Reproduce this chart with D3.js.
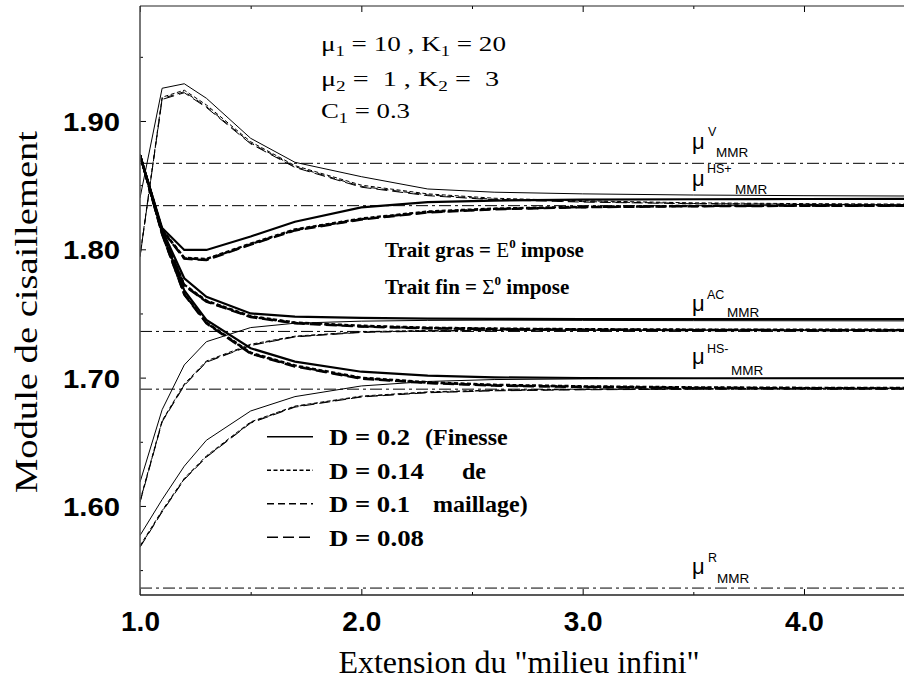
<!DOCTYPE html>
<html><head><meta charset="utf-8">
<script src="https://cdn.jsdelivr.net/npm/d3@7"></script>
<style>body{margin:0;background:#fff} svg{display:block}</style>
</head><body><svg id="c" width="904" height="679"></svg>
<script>
// ---- data ----
const xs = [1.0, 1.1, 1.2, 1.3, 1.5, 1.7, 2.0, 2.3, 2.6, 3.0, 3.5, 4.0, 4.5];
const meshLabels = ["D = 0.2", "D = 0.14", "D = 0.1", "D = 0.08"];
const meshNotes = ["(Finesse", "de", "maillage)", ""];
const xTicksMajor = [1.0, 2.0, 3.0, 4.0];
const xTicksMinor = [1.5, 2.5, 3.5, 4.5];
const yTicksMajor = [1.60, 1.70, 1.80, 1.90];
const yTicksMinor = [1.55, 1.65, 1.75, 1.85, 1.95];
const refNames = ["V", "HS+", "AC", "HS-", "R"];
const refValues = [1.867, 1.834, 1.736, 1.691, 1.536];

// Sigma0 imposed (thin lines)
const sigUp_020 = [1.840, 1.9255, 1.9290, 1.9177, 1.8865, 1.8678, 1.8566, 1.8470, 1.8445, 1.8432, 1.8423, 1.8418, 1.8415];
const sigUp_014 = [1.795, 1.9185, 1.9240, 1.9125, 1.8838, 1.8652, 1.8500, 1.8432, 1.8398, 1.8378, 1.8362, 1.8356, 1.8352];
const sigUp_010 = [1.794, 1.9175, 1.9228, 1.9112, 1.8828, 1.8644, 1.8490, 1.8424, 1.8390, 1.8372, 1.8357, 1.8351, 1.8348];
const sigUp_008 = [1.7945, 1.9168, 1.9220, 1.9105, 1.8822, 1.8638, 1.8484, 1.8418, 1.8386, 1.8368, 1.8355, 1.8349, 1.8346];
const sigMid_020 = [1.6185, 1.6750, 1.7099, 1.7280, 1.7390, 1.7424, 1.7440, 1.7446, 1.7448, 1.7446, 1.7444, 1.7443, 1.7442];
const sigMid_014 = [1.6040, 1.6665, 1.6950, 1.7130, 1.7260, 1.7323, 1.7358, 1.7368, 1.7372, 1.7373, 1.7373, 1.7373, 1.7373];
const sigMid_010 = [1.6033, 1.6660, 1.6943, 1.7124, 1.7254, 1.7320, 1.7355, 1.7365, 1.7370, 1.7371, 1.7371, 1.7371, 1.7371];
const sigMid_008 = [1.6028, 1.6655, 1.6938, 1.7120, 1.7250, 1.7317, 1.7352, 1.7362, 1.7367, 1.7369, 1.7369, 1.7369, 1.7369];
const sigLow_020 = [1.5770, 1.6050, 1.6310, 1.6512, 1.6740, 1.6852, 1.6935, 1.6970, 1.6985, 1.6990, 1.6993, 1.6995, 1.6995];
const sigLow_014 = [1.5690, 1.5965, 1.6215, 1.6390, 1.6655, 1.6778, 1.6856, 1.6889, 1.6903, 1.6910, 1.6914, 1.6917, 1.6918];
const sigLow_010 = [1.5683, 1.5958, 1.6210, 1.6384, 1.6650, 1.6774, 1.6852, 1.6885, 1.6900, 1.6908, 1.6912, 1.6915, 1.6916];
const sigLow_008 = [1.5678, 1.5953, 1.6205, 1.6380, 1.6646, 1.6770, 1.6849, 1.6882, 1.6897, 1.6905, 1.6910, 1.6913, 1.6914];
// E0 imposed (thick lines)
const epsUp_020 = [1.8735, 1.8166, 1.7995, 1.7995, 1.8100, 1.8215, 1.8327, 1.8368, 1.8380, 1.8387, 1.8390, 1.8392, 1.8393];
const epsUp_014 = [1.8735, 1.8155, 1.7935, 1.7925, 1.8045, 1.8155, 1.8240, 1.8295, 1.8318, 1.8332, 1.8339, 1.8342, 1.8343];
const epsUp_010 = [1.8735, 1.8150, 1.7930, 1.7920, 1.8040, 1.8150, 1.8235, 1.8290, 1.8314, 1.8329, 1.8337, 1.8340, 1.8341];
const epsUp_008 = [1.8735, 1.8147, 1.7926, 1.7916, 1.8036, 1.8146, 1.8231, 1.8287, 1.8311, 1.8327, 1.8335, 1.8338, 1.8339];
const epsMid_020 = [1.8735, 1.8150, 1.7774, 1.7630, 1.7500, 1.7475, 1.7465, 1.7460, 1.7458, 1.7457, 1.7456, 1.7456, 1.7456];
const epsMid_014 = [1.8735, 1.8140, 1.7725, 1.7600, 1.7480, 1.7430, 1.7405, 1.7390, 1.7383, 1.7378, 1.7375, 1.7374, 1.7373];
const epsMid_010 = [1.8735, 1.8135, 1.7720, 1.7595, 1.7475, 1.7426, 1.7400, 1.7386, 1.7380, 1.7375, 1.7372, 1.7371, 1.7370];
const epsMid_008 = [1.8735, 1.8132, 1.7716, 1.7591, 1.7471, 1.7423, 1.7397, 1.7383, 1.7377, 1.7373, 1.7370, 1.7369, 1.7368];
const epsLow_020 = [1.8735, 1.8130, 1.7680, 1.7450, 1.7229, 1.7125, 1.7046, 1.7015, 1.7002, 1.6997, 1.6995, 1.6995, 1.6995];
const epsLow_014 = [1.8735, 1.8122, 1.7655, 1.7430, 1.7195, 1.7095, 1.7000, 1.6965, 1.6945, 1.6933, 1.6925, 1.6921, 1.6920];
const epsLow_010 = [1.8735, 1.8118, 1.7650, 1.7426, 1.7190, 1.7090, 1.6995, 1.6960, 1.6940, 1.6929, 1.6921, 1.6918, 1.6917];
const epsLow_008 = [1.8735, 1.8115, 1.7646, 1.7422, 1.7186, 1.7086, 1.6991, 1.6957, 1.6937, 1.6926, 1.6918, 1.6915, 1.6914];

// ---- layout ----
const svg = d3.select("#c");
const L = 140, R = 904, T = 6, B = 595;
const x = d3.scaleLinear().domain([1.0, 4.5]).range([L, L + 3.5 * 221.33]);
const y = d3.scaleLinear().domain([1.5306, 1.9896]).range([B, T]);
const dashes = [null, "4,2.5", "7,4", "11,5"];
const serif = "'Liberation Serif','Times New Roman',serif";
const sans = "'Liberation Sans',Arial,sans-serif";

svg.append("defs").append("clipPath").attr("id", "clip")
  .append("rect").attr("x", L).attr("y", T).attr("width", R - L).attr("height", B - T);
const plot = svg.append("g").attr("clip-path", "url(#clip)");

// reference lines
plot.selectAll("line.ref").data(refValues).join("line").attr("class", "ref")
  .attr("x1", L).attr("x2", R).attr("y1", d => y(d)).attr("y2", d => y(d))
  .attr("stroke", "#000").attr("stroke-width", 1).attr("stroke-dasharray", "12,4,3,4");

const families = [
  {thick: false, series: [sigUp_020, sigUp_014, sigUp_010, sigUp_008]},
  {thick: false, series: [sigMid_020, sigMid_014, sigMid_010, sigMid_008]},
  {thick: false, series: [sigLow_020, sigLow_014, sigLow_010, sigLow_008]},
  {thick: true, series: [epsUp_020, epsUp_014, epsUp_010, epsUp_008]},
  {thick: true, series: [epsMid_020, epsMid_014, epsMid_010, epsMid_008]},
  {thick: true, series: [epsLow_020, epsLow_014, epsLow_010, epsLow_008]}
];
const line = d3.line().x((d, i) => x(xs[i])).y(d => y(d));
families.forEach(f => {
  f.series.forEach((s, k) => {
    plot.append("path").attr("d", line(s)).attr("fill", "none")
      .attr("stroke", "#000").attr("stroke-width", f.thick ? 2.2 : 1)
      .attr("stroke-dasharray", dashes[k]);
  });
});

// axes
const gx = svg.append("g").attr("transform", `translate(0,${B})`);
gx.call(d3.axisBottom(x).tickValues(xTicksMajor).tickSizeInner(-6).tickSizeOuter(0).tickFormat(d3.format(".1f")));
gx.call(g => g.select(".domain").remove());
gx.selectAll("text").attr("y", 36).attr("dy", 0).attr("font-size", 28).attr("font-weight", "bold").attr("font-family", sans).attr("fill", "#000");
const gx2 = svg.append("g").attr("transform", `translate(0,${B})`);
gx2.call(d3.axisBottom(x).tickValues(xTicksMinor).tickSizeInner(-3).tickSizeOuter(0).tickFormat(""));
gx2.call(g => g.select(".domain").remove());
const gt = svg.append("g").attr("transform", `translate(0,${T})`);
gt.call(d3.axisTop(x).tickValues(xTicksMajor).tickSizeInner(-6).tickSizeOuter(0).tickFormat(""));
gt.call(g => g.select(".domain").remove());
const gt2 = svg.append("g").attr("transform", `translate(0,${T})`);
gt2.call(d3.axisTop(x).tickValues(xTicksMinor).tickSizeInner(-3).tickSizeOuter(0).tickFormat(""));
gt2.call(g => g.select(".domain").remove());
const gy = svg.append("g").attr("transform", `translate(${L},0)`);
gy.call(d3.axisLeft(y).tickValues(yTicksMajor).tickSizeInner(-6).tickSizeOuter(0).tickPadding(20).tickFormat(d3.format(".2f")));
gy.call(g => g.select(".domain").remove());
gy.selectAll("text").attr("dy", "0.38em").attr("font-size", 25).attr("font-weight", "bold").attr("font-family", sans)
  .attr("fill", "#000").attr("textLength", 57).attr("lengthAdjust", "spacingAndGlyphs");
const gy2 = svg.append("g").attr("transform", `translate(${L},0)`);
gy2.call(d3.axisLeft(y).tickValues(yTicksMinor).tickSizeInner(-3).tickSizeOuter(0).tickFormat(""));
gy2.call(g => g.select(".domain").remove());
svg.selectAll(".tick line").attr("stroke", "#000");

svg.append("line").attr("x1", L).attr("x2", L).attr("y1", T).attr("y2", B).attr("stroke", "#555").attr("stroke-width", 1.6);
svg.append("line").attr("x1", L).attr("x2", R).attr("y1", B).attr("y2", B).attr("stroke", "#222").attr("stroke-width", 1.3);
svg.append("line").attr("x1", L).attr("x2", R).attr("y1", T).attr("y2", T).attr("stroke", "#222").attr("stroke-width", 1.2);

// axis titles
svg.append("text").attr("x", 519).attr("y", 673).attr("text-anchor", "middle")
  .attr("font-family", serif).attr("font-size", 32).text("Extension du \"milieu infini\"");
svg.append("text").attr("transform", "translate(37,312) rotate(-90)").attr("text-anchor", "middle")
  .attr("font-family", serif).attr("font-size", 32).attr("textLength", 362).attr("lengthAdjust", "spacingAndGlyphs")
  .text("Module de cisaillement");

// reference labels
const refPos = [
  {mu: 149, supX: 708, supY: 136, subX: 716, subY: 157},
  {mu: 186, supX: 707, supY: 173, subX: 735, subY: 194},
  {mu: 311, supX: 707, supY: 299, subX: 727, subY: 317},
  {mu: 364, supX: 707, supY: 353, subX: 731, subY: 375},
  {mu: 574, supX: 708, supY: 562, subX: 717, subY: 583}
];
refNames.forEach((n, i) => {
  const p = refPos[i];
  const g = svg.append("g").attr("font-family", sans).attr("fill", "#000");
  g.append("text").attr("x", 692).attr("y", p.mu).attr("font-size", 22).text("μ");
  g.append("text").attr("x", p.supX).attr("y", p.supY).attr("font-size", 12.5).text(n);
  g.append("text").attr("x", p.subX).attr("y", p.subY).attr("font-size", 13.5).text("MMR");
});

// parameter annotation
function subText(xp, yp, len, parts) {
  const t = svg.append("text").attr("x", xp).attr("y", yp).attr("font-family", serif).attr("font-size", 22)
    .attr("textLength", len).attr("lengthAdjust", "spacingAndGlyphs");
  parts.forEach(pt => {
    const ts = t.append("tspan").text(pt[0]);
    if (pt[1] === "sub") ts.attr("font-size", 15).attr("dy", 5);
    if (pt[1] === "back") ts.attr("dy", -5);
  });
  t.attr("xml:space", "preserve");
}
subText(321, 51, 185, [["μ"], ["1", "sub"], [" = 10 , K", "back"], ["1", "sub"], [" = 20", "back"]]);
subText(321, 86, 178, [["μ"], ["2", "sub"], [" =  1 , K", "back"], ["2", "sub"], [" =  3", "back"]]);
subText(321, 118, 89, [["C"], ["1", "sub"], [" = 0.3", "back"]]);

// trait annotation
function traitText(yp, lead, sym) {
  const t = svg.append("text").attr("x", 385).attr("y", yp).attr("font-family", serif)
    .attr("font-size", 21).attr("font-weight", "bold");
  t.append("tspan").text(lead);
  t.append("tspan").attr("font-weight", "normal").text(sym);
  t.append("tspan").attr("font-size", 13).attr("dy", -9).text("0");
  t.append("tspan").attr("dy", 9).text(" impose");
}
traitText(257, "Trait gras = ", "E");
traitText(294, "Trait fin = ", "Σ");

// legend
const noteX = [425, 462, 433, 0];
const labLen = [81, 95, 81, 95];
meshLabels.forEach((lab, i) => {
  const ly = 436.7 + i * 33.5;
  svg.append("line").attr("x1", 267).attr("x2", 313).attr("y1", ly).attr("y2", ly)
    .attr("stroke", "#000").attr("stroke-width", 1.5).attr("stroke-dasharray", dashes[i]);
  svg.append("text").attr("x", 329).attr("y", ly + 8.5).attr("font-family", serif)
    .attr("font-size", 24).attr("font-weight", "bold")
    .attr("textLength", labLen[i]).attr("lengthAdjust", "spacingAndGlyphs").text(lab);
  if (meshNotes[i]) svg.append("text").attr("x", noteX[i]).attr("y", ly + 8.5).attr("font-family", serif)
    .attr("font-size", 24).attr("font-weight", "bold").text(meshNotes[i]);
});
</script></body></html>
